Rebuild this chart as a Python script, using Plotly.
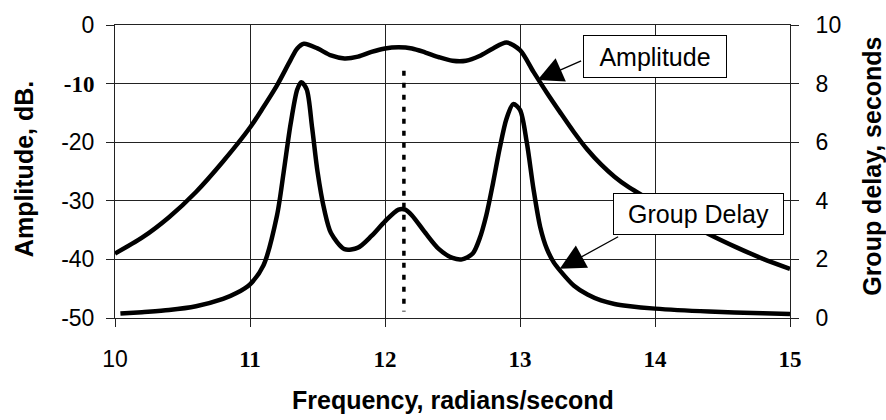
import plotly.graph_objects as go

# ---- data ----
freq_amp = [10.0, 10.2, 10.4, 10.6, 10.8, 11.0, 11.1, 11.2, 11.3, 11.35, 11.4, 11.5, 11.6, 11.7,
            11.8, 11.9, 12.0, 12.1, 12.2, 12.3, 12.4, 12.5, 12.6, 12.7, 12.8, 12.9, 13.0, 13.1,
            13.2, 13.3, 13.4, 13.5, 13.6, 13.7, 13.8, 13.9, 14.0, 14.2, 14.4, 14.6, 14.8, 15.0]
amplitude_db = [-39.0, -36.3, -32.8, -28.5, -23.3, -17.5, -14.0, -10.3, -6.0, -4.0, -3.2, -4.0,
                -5.2, -5.7, -5.4, -4.6, -4.0, -3.8, -4.0, -4.7, -5.5, -6.1, -6.1, -5.3, -4.0,
                -3.0, -4.3, -8.0, -11.6, -15.0, -18.3, -21.3, -23.8, -25.9, -27.6, -29.0,
                -30.4, -33.2, -35.7, -37.9, -39.9, -41.6]

freq_gd = [10.04, 10.2, 10.4, 10.6, 10.8, 10.9, 11.0, 11.1, 11.2, 11.25, 11.3, 11.35, 11.38,
           11.42, 11.46, 11.5, 11.55, 11.6, 11.7, 11.8, 11.9, 12.0, 12.1, 12.15, 12.2, 12.3,
           12.4, 12.5, 12.57, 12.65, 12.7, 12.75, 12.8, 12.85, 12.9, 12.95, 13.0, 13.05, 13.1,
           13.15, 13.2, 13.25, 13.3, 13.4, 13.5, 13.6, 13.7, 13.8, 14.0, 14.4, 14.8, 15.0]
group_delay_s = [0.15, 0.2, 0.27, 0.4, 0.65, 0.85, 1.15, 1.8, 3.5, 5.0, 6.6, 7.8, 8.05, 7.8,
                 6.5, 5.0, 3.7, 2.9, 2.35, 2.4, 2.8, 3.3, 3.7, 3.7, 3.5, 2.9, 2.35, 2.05, 2.0,
                 2.2, 2.7, 3.5, 4.6, 5.8, 6.8, 7.3, 7.1, 6.0, 4.4, 3.1, 2.35, 1.9, 1.6, 1.1,
                 0.8, 0.6, 0.48, 0.41, 0.32, 0.22, 0.16, 0.14]

marker_freq = [12.14, 12.14]
marker_db = [-7.8, -48.9]

x_ticks = [10, 11, 12, 13, 14, 15]
x_labels = ["10", "11", "12", "13", "14", "15"]
y_ticks = [0, -10, -20, -30, -40, -50]
y_labels = ["0", "-10", "-20", "-30", "-40", "-50"]
y2_ticks = [0, 2, 4, 6, 8, 10]
y2_labels = ["0", "2", "4", "6", "8", "10"]

SANS = "Liberation Sans, Arial, sans-serif"
SERIF = "Liberation Serif"


def serif_bold(t):
    return "<b><span style='font-family:%s'>%s</span></b>" % (SERIF, t)


x_text = [x_labels[0]] + [serif_bold(t) for t in x_labels[1:]]
y_text = [serif_bold(t) if t == "-10" else t for t in y_labels]

fig = go.Figure()
fig.add_trace(go.Scatter(x=freq_amp, y=amplitude_db, mode="lines",
                         line=dict(color="black", width=4.5, shape="spline", smoothing=0.8),
                         showlegend=False, hoverinfo="skip"))
fig.add_trace(go.Scatter(x=freq_gd, y=group_delay_s, mode="lines", yaxis="y2",
                         line=dict(color="black", width=4.5, shape="spline", smoothing=0.8),
                         showlegend=False, hoverinfo="skip"))
fig.add_trace(go.Scatter(x=marker_freq, y=marker_db, mode="lines",
                         line=dict(color="black", width=3.5, dash="5px,7px"),
                         showlegend=False, hoverinfo="skip"))

axis_common = dict(showgrid=True, gridcolor="#222", gridwidth=1, ticks="outside", ticklen=8,
                   tickcolor="#222", showline=True, linecolor="#222", linewidth=1,
                   zeroline=False, tickfont=dict(family=SANS, size=23, color="black"))

fig.update_layout(
    width=886, height=420,
    margin=dict(l=115, r=96, t=21, b=102),
    paper_bgcolor="white", plot_bgcolor="white",
    xaxis=dict(range=[10, 15], tickvals=x_ticks, ticktext=x_text, mirror=True,
               ticklabelstandoff=12, **axis_common),
    yaxis=dict(range=[-50, 0], tickvals=y_ticks, ticktext=y_text, mirror=True,
               ticklabelstandoff=7, **axis_common),
    yaxis2=dict(range=[0, 10], tickvals=y2_ticks, ticktext=y2_labels, overlaying="y",
                side="right", ticklabelstandoff=12,
                **{**axis_common, "showgrid": False}),
)

title_font = dict(family=SANS, size=25, color="black")
fig.add_annotation(text="<b>Frequency, radians/second</b>", xref="paper", yref="paper",
                   x=0.5, y=0, xanchor="center", yanchor="middle", yshift=-82,
                   showarrow=False, font=title_font)
fig.add_annotation(text="<b>Amplitude, dB.</b>", xref="paper", yref="paper",
                   x=0, y=0.508, xanchor="center", yanchor="middle", xshift=-91,
                   textangle=-90, showarrow=False, font=title_font)
fig.add_annotation(text="<b>Group delay, seconds</b>", xref="paper", yref="paper",
                   x=1, y=0.516, xanchor="center", yanchor="middle", xshift=82,
                   textangle=-90, showarrow=False, font=title_font)

box_font = dict(family=SANS, size=25, color="black")
fig.add_annotation(text="Amplitude", x=14.0, y=-5.3, xref="x", yref="y", showarrow=False,
                   width=140, height=39, borderpad=1, bordercolor="black", borderwidth=1,
                   bgcolor="white", font=box_font)
fig.add_annotation(text="Group Delay", x=14.32, y=-32.3, xref="x", yref="y", showarrow=False,
                   width=167, height=38, borderpad=1, bordercolor="black", borderwidth=1,
                   bgcolor="white", font=box_font)

fig.add_annotation(text="", x=13.13, y=-9.4, ax=13.464, ay=-6.0, xref="x", yref="y",
                   axref="x", ayref="y", showarrow=True, arrowhead=2, arrowsize=3.9,
                   arrowwidth=1.3, arrowcolor="black")
fig.add_annotation(text="", x=13.294, y=-41.6, ax=13.738, ay=-36.0, xref="x", yref="y",
                   axref="x", ayref="y", showarrow=True, arrowhead=2, arrowsize=3.9,
                   arrowwidth=1.3, arrowcolor="black")

fig.write_html("out.html")
